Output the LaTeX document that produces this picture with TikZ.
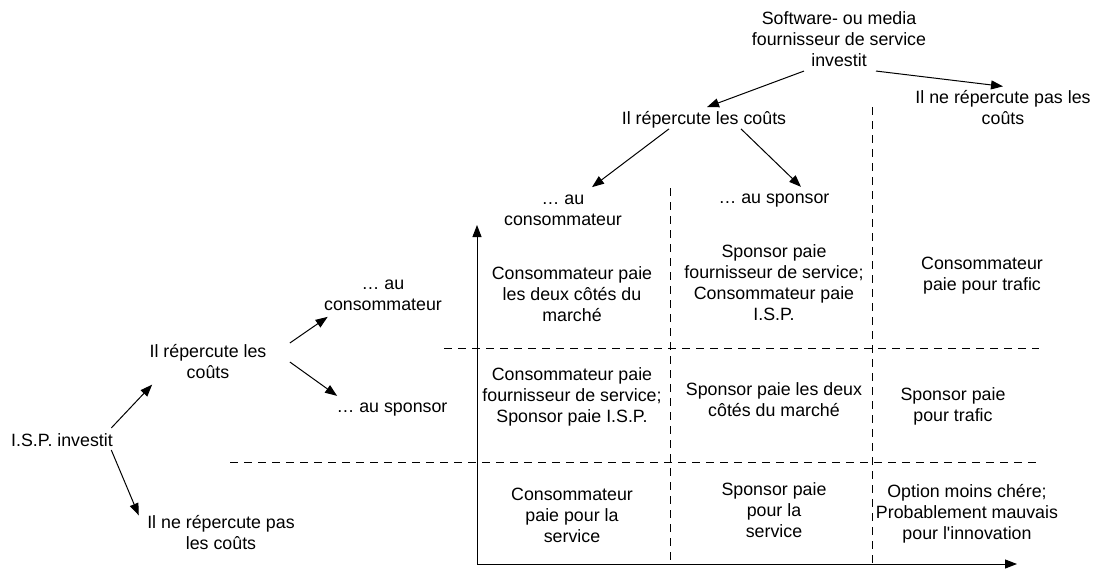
\documentclass[tikz,border=0pt]{standalone}
\usepackage{fontspec}
\setmainfont{Liberation Sans}[Ligatures=TeXOff]
\usetikzlibrary{arrows.meta}

\begin{document}
\begin{tikzpicture}[>={Triangle[length=12pt, width=9pt]}, x=1pt, y=-1pt, line width=1pt]
    \tikzset{
        lbl/.style={align=center, inner sep=0pt, font=\fontsize{17.8}{21}\selectfont},
        grid/.style={dash pattern=on 8pt off 6pt, line width=0.9pt}
    };
    \useasboundingbox (0, 0) rectangle (1099, 570);
    % left tree
    \node[lbl] (isp) at (62, 440) {I.S.P. investit};
    \node[lbl] (rep2) at (208, 362) {Il répercute les\\coûts};
    \node[lbl] (nopass2) at (221, 533) {Il ne répercute pas\\les coûts};
    \node[lbl] (cons2) at (383, 295) {… au\\consommateur};
    \node[lbl] (spons2) at (392, 410) {… au sponsor};
    \draw[->] ([shift={(-2pt, 5pt)}]isp.north east) -- ([shift={(3pt, -5pt)}]rep2.south west);
    \draw[->] ([shift={(-2pt, -3pt)}]isp.south east) -- ([xshift=-8pt]nopass2.north west);
    \draw[->] ([shift={(23pt, 19pt)}]rep2.east) -- ([shift={(4pt, -6pt)}]cons2.south west);
    \draw[->] ([xshift=23pt]rep2.east) -- ([shift={(1pt, 7pt)}]spons2.north west);
    % top tree
    \node[lbl] (top) at (839, 39) {Software- ou media\\fournisseur de service\\investit};
    \node[lbl] (rep) at (704, 120) {Il répercute les coûts};
    \node[lbl] (nopass) at (1003, 108) {Il ne répercute pas les\\coûts};
    \node[lbl] (cons) at (563, 210) {… au\\consommateur};
    \node[lbl] (spons) at (774, 201) {… au sponsor};
    \draw[->] ([shift={(-35pt, -4pt)}]top.south) -- ([shift={(3pt, 4pt)}]rep.north);
    \draw[->] ([shift={(37pt, -4pt)}]top.south) -- ([yshift=4pt]nopass.north);
    \draw[->] ([xshift=-35pt]rep.south) -- ([shift={(29pt, 7pt)}]cons.north);
    \draw[->] ([xshift=37pt]rep.south) -- ([shift={(27pt, 7pt)}]spons.north);
    % axes and grid
    \coordinate (o) at (477, 564);
    \coordinate (ytip) at (477, 225);
    \coordinate (xtip) at (1017, 564);
    \draw[->] (o) -- (ytip);
    \draw[->] (o) -- (xtip);
    \draw[grid] (670, 188) -- (670, 564);
    \draw[grid] (872, 107) -- (872, 564);
    \draw[grid] (444, 348) -- (1039, 348);
    \draw[grid] (230, 462) -- (1039, 462);
    % cells
    \node[lbl] (c11) at (572, 294) {Consommateur paie\\les deux côtés du\\marché};
    \node[lbl] (c12) at (774, 283) {Sponsor paie\\fournisseur de service;\\Consommateur paie\\I.S.P.};
    \node[lbl] (c13) at (982, 276) {Consommateur\\paie pour trafic};
    \node[lbl] (c21) at (572, 397) {Consommateur paie\\fournisseur de service;\\Sponsor paie I.S.P.};
    \node[lbl] (c22) at (774, 400) {Sponsor paie les deux\\côtés du marché};
    \node[lbl] (c23) at (953, 406) {Sponsor paie\\pour trafic};
    \node[lbl] (c31) at (572, 515) {Consommateur\\paie pour la\\service};
    \node[lbl] (c32) at (774, 510) {Sponsor paie\\pour la\\service};
    \node[lbl] (c33) at (967, 514) {Option moins chére;\\Probablement mauvais\\pour l'innovation};
\end{tikzpicture}
\end{document}
